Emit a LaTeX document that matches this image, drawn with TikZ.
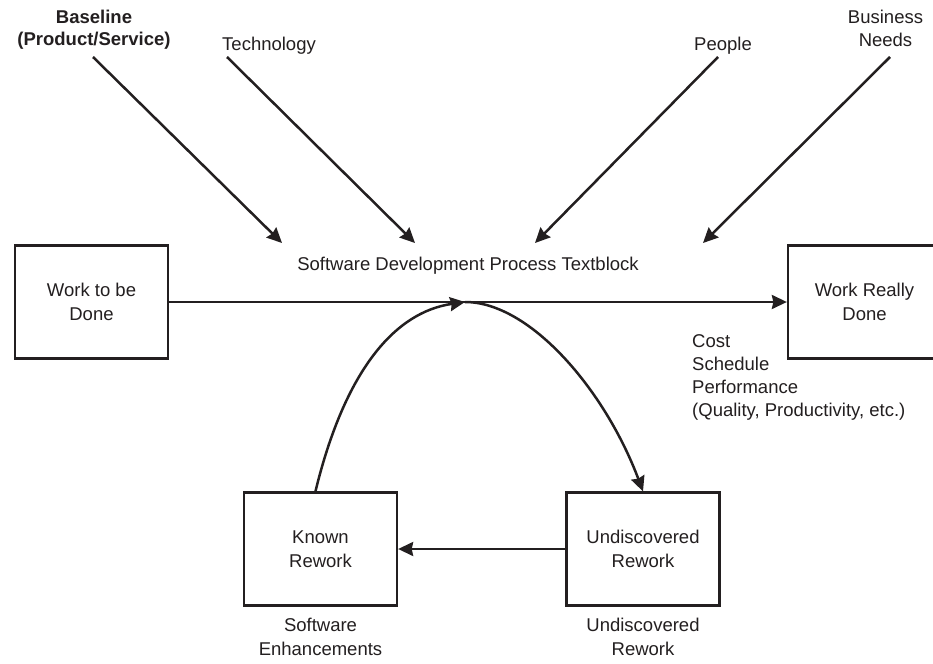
\documentclass[tikz,border=0pt]{standalone}
\usepackage{fontspec}
\setmainfont{Liberation Sans}
\usetikzlibrary{arrows.meta}
\definecolor{ink}{HTML}{231F20}
\begin{document}
\begin{tikzpicture}[x=1pt,y=-1pt,
  txt/.style={font=\fontsize{18.5}{24}\selectfont, text=ink, inner sep=0pt},
  box/.style={txt, draw=ink, line width=2.3pt, minimum width=153pt,
    minimum height=113pt, align=center},
  lab/.style={txt, align=center},
  arr/.style={draw=ink, line width=2.5pt,
    -{Stealth[length=15pt,width=14pt,inset=1.5pt]}},
]
\useasboundingbox (0,0) rectangle (933,663);
\clip (0,0) rectangle (933,663);
\fill[white] (0,0) rectangle (933,663);

% boxes
\node[box] (todo)   at (91.5,302) {Work to be\\Done};
\node[box] (done)   at (864.5,302) {Work Really\\Done};
\node[box] (known)  at (320.5,549) {Known\\Rework};
\node[box] (undisc) at (643,549) {Undiscovered\\Rework};

% influence labels
\node[lab, font=\fontsize{18.5}{22}\selectfont\bfseries] (base) at (94,30) {Baseline\\(Product/Service)};
\node[lab] (tech) at (269,46) {Technology};
\node[lab] (people) at (723,46) {People};
\node[lab, font=\fontsize{18.5}{23}\selectfont] (need) at (885.5,28) {Business\\Needs};

\node[lab] (proc) at (468,266) {Software Development Process Textblock};

\node[txt, align=left, anchor=west, font=\fontsize{18.5}{23}\selectfont] (meas) at (692,377)
  {Cost\\Schedule\\Performance\\(Quality, Productivity, etc.)};

\node[lab] (enh) at (320.5,637) {Software\\Enhancements};
\node[lab] (und) at (643,637) {Undiscovered\\Rework};

% influence arrows
\coordinate (s1) at (93,57);  \coordinate (t1) at (282,243);
\coordinate (s2) at (227,57); \coordinate (t2) at (415,243);
\coordinate (s3) at (718,57); \coordinate (t3) at (535,243);
\coordinate (s4) at (890,57); \coordinate (t4) at (703,243);
\draw[arr] (s1) -- (t1);
\draw[arr] (s2) -- (t2);
\draw[arr] (s3) -- (t3);
\draw[arr] (s4) -- (t4);

% main flow
\draw[arr] (todo.east) -- (done.west);
\draw[arr] (undisc.west) -- (known.east);

% rework loop
\coordinate (apex) at (465,302);
\draw[arr] (known.95) .. controls (345,370) and (395,312) .. (apex);
\draw[arr] (apex) .. controls (530,302) and (605,390) .. (undisc.north);
\end{tikzpicture}
\end{document}
